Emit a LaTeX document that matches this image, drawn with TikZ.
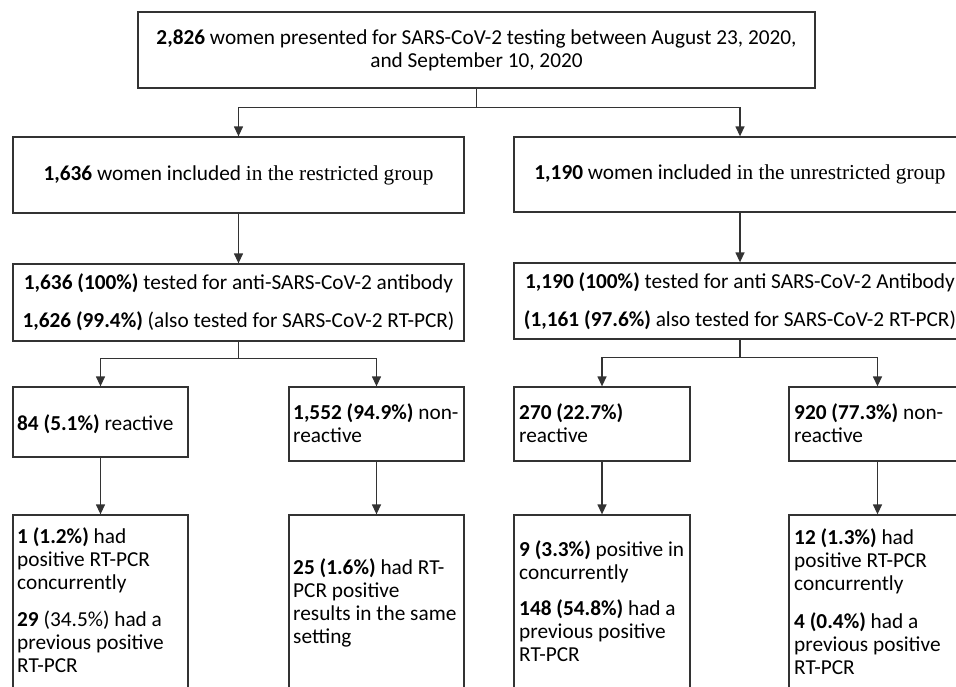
\documentclass[tikz,border=0pt]{standalone}
\usepackage{fontspec}
\setmainfont{Carlito}
\newfontfamily\serifpart{Liberation Serif}
\usetikzlibrary{arrows.meta}
\begin{document}
\begin{tikzpicture}[x=1pt,y=-1pt,
  box/.style={draw=black!80, line width=1.3pt, inner sep=0pt, font=\fontsize{21.3}{23}\selectfont},
  lbl/.style={inner sep=0pt, font=\fontsize{21.3}{23}\selectfont},
  conn/.style={draw=black!80, line width=1.3pt},
  arr/.style={conn, -{Triangle[length=10pt,width=9pt]}},
]
\path[use as bounding box, clip] (0,0) rectangle (956,686);
\fill[white] (0,0) rectangle (956,686);

% top
\node[box, minimum width=677pt, minimum height=76pt, align=center] (top) at (476.5,50)
  {\textbf{2,826} women presented for SARS-CoV-2 testing between August 23, 2020,\\and September 10, 2020};

% groups
\node[box, minimum width=451pt, minimum height=76pt] (rg) at (238.5,175)
  {\textbf{1,636} women included {\serifpart in the restricted group}};
\node[box, minimum width=452pt, minimum height=75pt] (ug) at (740,174.5)
  {\textbf{1,190} women included {\serifpart in the unrestricted group}};

% tests
\node[box, minimum width=451pt, minimum height=77pt, align=center] (rt) at (238.5,302.5)
  {\textbf{1,636 (100\%)} tested for anti-SARS-CoV-2 antibody\\[15pt]\textbf{1,626 (99.4\%)} (also tested for SARS-CoV-2 RT-PCR)};
\node[box, minimum width=452pt, minimum height=76pt, align=center] (ut) at (740,301)
  {\textbf{1,190 (100\%)} tested for anti SARS-CoV-2 Antibody\\[15pt]\textbf{(1,161 (97.6\%)} also tested for SARS-CoV-2 RT-PCR)};

% level 3
\node[box, minimum width=175pt, minimum height=70pt] (lr) at (100.5,422) {};
\node[box, minimum width=175pt, minimum height=74pt] (ln) at (376.5,424) {};
\node[box, minimum width=176pt, minimum height=74pt] (rr) at (602,424) {};
\node[box, minimum width=177pt, minimum height=74pt] (rn) at (877.5,424) {};

\node[lbl, anchor=base west] (lrt) at (17,430) {\textbf{84 (5.1\%)} reactive};
\node[lbl, anchor=base west, text width=200pt, align=flush left] (lnt) at (293,419)
  {\textbf{1,552 (94.9\%)} non-\\reactive};
\node[lbl, anchor=base west, text width=200pt, align=flush left] (rrt) at (519,419)
  {\textbf{270 (22.7\%)}\\reactive};
\node[lbl, anchor=base west, text width=200pt, align=flush left] (rnt) at (794,419)
  {\textbf{920 (77.3\%)} non-\\reactive};

% level 4
\node[box, minimum width=175pt, minimum height=215pt] (lr4) at (100.5,622.5) {};
\node[box, minimum width=175pt, minimum height=215pt] (ln4) at (376.5,622.5) {};
\node[box, minimum width=176pt, minimum height=215pt] (rr4) at (602,622.5) {};
\node[box, minimum width=177pt, minimum height=215pt] (rn4) at (877.5,622.5) {};

\node[lbl, anchor=base west, text width=200pt, align=flush left] (lr4t) at (17,543.5)
  {\textbf{1 (1.2\%)} had\\positive RT-PCR\\concurrently\\[14pt]\textbf{29} (34.5\%) had a\\previous positive\\RT-PCR};
\node[lbl, anchor=base west, text width=200pt, align=flush left] (ln4t) at (293,574.5)
  {\textbf{25 (1.6\%)} had RT-\\PCR positive\\results in the same\\setting};
\node[lbl, anchor=base west, text width=200pt, align=flush left] (rr4t) at (519,556.5)
  {\textbf{9 (3.3\%)} positive in\\concurrently\\[13pt]\textbf{148 (54.8\%)} had a\\previous positive\\RT-PCR};
\node[lbl, anchor=base west, text width=200pt, align=flush left] (rn4t) at (794,544.5)
  {\textbf{12 (1.3\%)} had\\positive RT-PCR\\concurrently\\[15pt]\textbf{4 (0.4\%)} had a\\previous positive\\RT-PCR};

% connectors
\path (top.south) ++(0,19) coordinate (j1);
\draw[conn] (top.south) -- (j1);
\draw[arr] (j1) -| (rg.north);
\draw[arr] (j1) -| (ug.north);

\draw[arr] (rg.south) -- (rt.north);
\draw[arr] (ug.south) -- (ut.north);

\path (rt.south) ++(0,17) coordinate (j2);
\draw[conn] (rt.south) -- (j2);
\draw[arr] (j2) -| (lr.north);
\draw[arr] (j2) -| (ln.north);

\path (ut.south) ++(0,18) coordinate (j3);
\draw[conn] (ut.south) -- (j3);
\draw[arr] (j3) -| (rr.north);
\draw[arr] (j3) -| (rn.north);

\draw[arr] (lr.south) -- (lr4.north);
\draw[arr] (ln.south) -- (ln4.north);
\draw[arr] (rr.south) -- (rr4.north);
\draw[arr] (rn.south) -- (rn4.north);
\end{tikzpicture}
\end{document}
